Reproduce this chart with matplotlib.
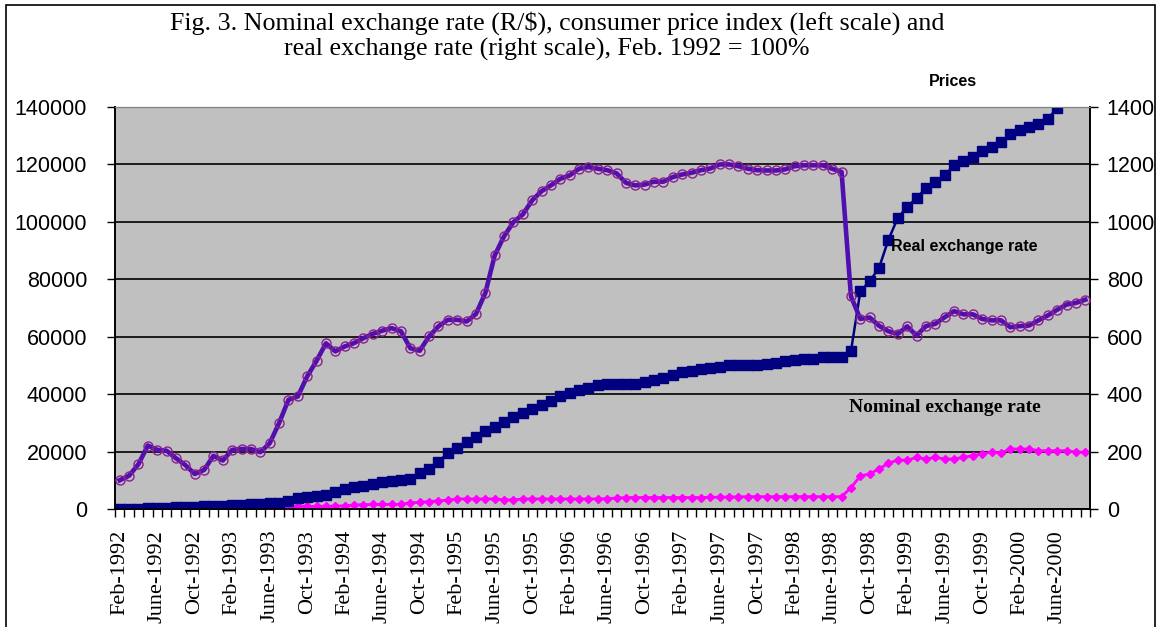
import matplotlib
matplotlib.use("Agg")
import matplotlib.pyplot as plt
from matplotlib.patches import Rectangle
from matplotlib.ticker import FixedLocator, NullFormatter

W, H = 1160, 627

# ---- data (monthly, Feb-1992 .. Sep-2000) ----
months = ["Feb", "Mar", "Apr", "May", "June", "July", "Aug", "Sep", "Oct", "Nov", "Dec", "Jan"]
start_year = 1992

real_rate = [100, 116, 156, 221, 206, 203, 177, 153, 122, 136, 185, 169, 206, 209, 209, 198, 229, 299, 380, 392, 462, 516, 577,
             549, 566, 578, 595, 610, 621, 630, 619, 560, 551, 601, 636, 659, 659, 653, 679, 752, 883, 950, 999, 1026, 1075, 1107,
             1127, 1150, 1162, 1185, 1191, 1185, 1180, 1169, 1136, 1127, 1130, 1140, 1140, 1156, 1165, 1171, 1180, 1186, 1200, 1200, 1194, 1185,
             1180, 1179, 1179, 1183, 1194, 1197, 1197, 1197, 1185, 1174, 741, 662, 667, 638, 619, 610,
             636, 604, 637, 645, 668, 689, 678, 678, 662, 657, 657, 633, 637, 639, 657, 674, 694, 712, 718, 729]

prices = [100, 130, 160, 200, 250, 300, 600, 700, 800, 900, 1000, 1100, 1300, 1500, 1600, 1700, 2000, 2100, 2800, 3700, 4100, 4500, 5000, 6000, 7000,
          7600, 8100, 8700, 9300, 9800, 10100, 10500, 12700, 14000, 16500, 19400, 21400, 23500, 25200, 27200, 28700, 30300, 31900, 33400, 34700, 36300,
          37700, 39200, 40300, 41500, 42300, 43100, 43600, 43600, 43600, 43600, 44200, 45000, 45600, 46500, 47600, 48100, 48700, 49200, 49500, 50100, 50100, 50100,
          50100, 50600, 50800, 51400, 52000, 52300, 52300, 53100, 53100, 53100, 54900, 75800, 79300, 84000, 93800, 101400,
          105200, 108300, 111800, 113900, 116200, 119700, 121100, 122600, 124700, 126100, 127800, 130500, 131900, 133100, 134000, 135700, 139800, 144000, 146000, 148000]

nominal = [100, 120, 100, 90, 120, 150, 340, 450, 650, 660, 540, 650, 630, 720, 770, 860,
           870, 700, 740, 940, 900, 920, 950, 1000, 1100,
           1400, 1500, 1600, 1600, 1600, 1600, 2200, 2300, 2600, 2800, 3100, 3500, 3500, 3500, 3500, 3500, 3200, 3200, 3500, 3500, 3500,
           3500, 3500, 3500, 3500, 3500, 3500, 3600, 3800, 4000, 4000, 4000, 4000, 4000, 4000, 4000, 4000, 4000, 4100, 4100, 4200, 4200, 4300,
           4300, 4300, 4300, 4300, 4300, 4300, 4300, 4300, 4300, 4300, 7400, 11500, 12200, 14000, 15900, 17100,
           16900, 18000, 17400, 18000, 17400, 17400, 18000, 18600, 19200, 19800, 19500, 20900, 20900, 20900, 20300, 20300, 20300, 20300, 19800, 19800]

n = len(real_rate)
x = list(range(n))
categories = [f"{months[i % 12]}-{start_year + (i + 1) // 12}" for i in range(n)]
label_idx = list(range(0, n, 4))
left_ticks = list(range(0, 140001, 20000))
right_ticks = list(range(0, 1401, 200))

title1 = "Fig. 3. Nominal exchange rate (R/$), consumer price index (left scale) and"
title2 = "real exchange rate (right scale), Feb. 1992 = 100%"

SANS = ["Liberation Sans", "Arial", "DejaVu Sans"]
SERIF = ["Liberation Serif", "Times New Roman", "DejaVu Serif"]

fig = plt.figure(figsize=(W / 100, H / 100), dpi=100)
fig.patch.set_facecolor("white")

def fx(px):
    return px / W

def fy(py):
    return 1 - py / H

left, right, top, bottom = 115, 1090, 107, 509
ax = fig.add_axes([fx(left), fy(bottom), fx(right) - fx(left), fy(top) - fy(bottom)])
ax.set_facecolor("#C0C0C0")
ax.set_xlim(-0.5, n - 0.5)
ax.set_ylim(0, 140000)
ax.set_yticks(left_ticks)
ax.set_yticklabels([str(v) for v in left_ticks], fontfamily=SANS, fontsize=15.5)
ax.yaxis.grid(True, color="black", linewidth=1.2)
ax.set_axisbelow(True)

ax.xaxis.set_major_locator(FixedLocator(label_idx))
ax.set_xticklabels([categories[i] for i in label_idx], rotation=90, fontfamily=SERIF, fontsize=16)
ax.xaxis.set_minor_locator(FixedLocator([i + 0.5 for i in range(-1, n)]))
ax.xaxis.set_minor_formatter(NullFormatter())
ax.tick_params(axis="x", which="major", length=0, pad=15)
ax.tick_params(axis="x", which="minor", length=6, width=1, direction="out", color="black")
ax.tick_params(axis="y", length=6, width=1, direction="out", pad=14)

for s in ["left", "right", "bottom"]:
    ax.spines[s].set_color("black")
    ax.spines[s].set_linewidth(1.2)
ax.spines["top"].set_color("#808080")

ax.plot(x, nominal, color="#FF00FF", linewidth=2.0, marker="D", markersize=4.5,
        markerfacecolor="#FF00FF", markeredgecolor="#FF00FF", zorder=3)
ax.plot(x, prices, color="#000080", linewidth=1.8, marker="s", markersize=6.5,
        markerfacecolor="#000080", markeredgecolor="#000080", zorder=4)

ax2 = ax.twinx()
ax2.set_ylim(0, 1400)
ax2.set_yticks(right_ticks)
ax2.set_yticklabels([str(v) for v in right_ticks], fontfamily=SANS, fontsize=15.5)
ax2.tick_params(axis="y", length=6, width=1, direction="out", pad=6)
for s in ["left", "right", "bottom"]:
    ax2.spines[s].set_color("black")
    ax2.spines[s].set_linewidth(1.2)
ax2.spines["top"].set_color("#808080")
ax2.plot(x, real_rate, color="#5010B0", linewidth=3.3, marker="o", markersize=6.5,
         markerfacecolor="none", markeredgecolor="#8B1F8F", markeredgewidth=1.0, zorder=5)

# series annotations
fig.text(fx(953), fy(82), "Prices", fontfamily=SANS, fontweight="bold", fontsize=11.5,
         ha="center", va="center")
fig.text(fx(964), fy(246), "Real exchange rate", fontfamily=SANS, fontweight="bold", fontsize=11.5,
         ha="center", va="center")
fig.text(fx(945), fy(407), "Nominal exchange rate", fontfamily=SERIF, fontweight="bold", fontsize=14,
         ha="center", va="center")

# title
fig.text(fx(557), fy(23), title1, fontfamily=SERIF, fontsize=18.7, ha="center", va="center")
fig.text(fx(547), fy(49), title2, fontfamily=SERIF, fontsize=18.7, ha="center", va="center")

# outer frame
fig.patches.append(Rectangle((fx(6), -0.02), fx(1155) - fx(6), fy(5) + 0.02,
                             transform=fig.transFigure, fill=False, edgecolor="black",
                             linewidth=1.2, zorder=10))

fig.savefig("out.png", dpi=100)
